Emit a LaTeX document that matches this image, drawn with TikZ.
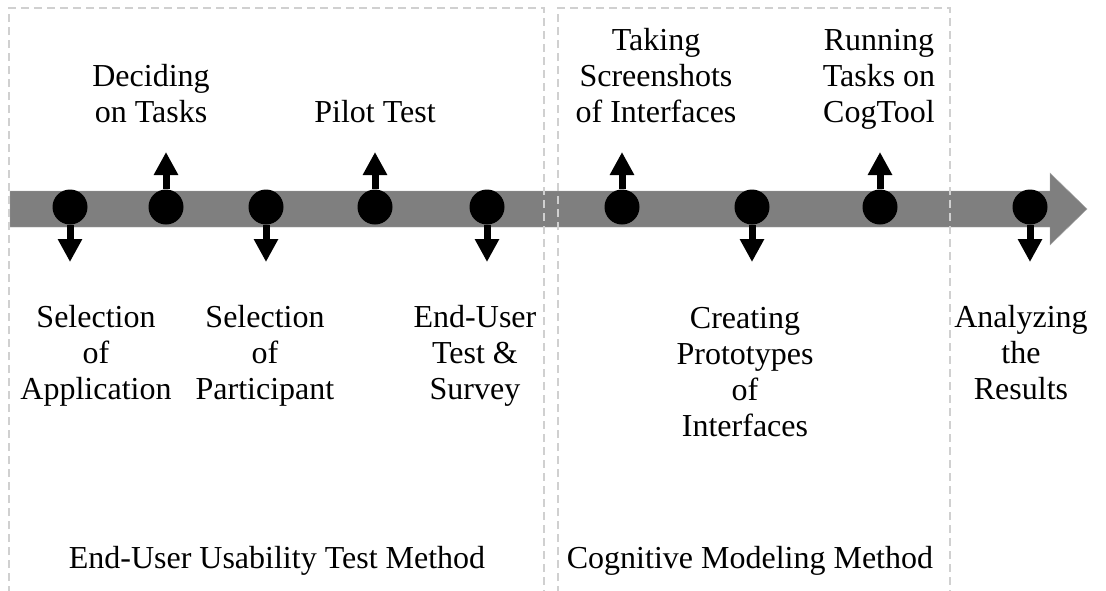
\documentclass[tikz,border=0pt]{standalone}
\usepackage{fontspec}
\setmainfont{Liberation Serif}
\usetikzlibrary{arrows.meta}
\definecolor{barGray}{HTML}{7F7F7F}
\definecolor{barEdge}{HTML}{A6A6A6}
\definecolor{boxGray}{HTML}{D0D0D0}

\begin{document}
\begin{tikzpicture}[x=1pt,y=-1pt,
    milestone/.style={circle,fill=black,minimum size=35pt,inner sep=0pt},
    stem/.style={line width=7pt,-{Triangle[width=23pt,length=23pt]}},
    lbl/.style={align=center,inner sep=0pt,anchor=base,font=\fontsize{32}{36}\selectfont},
    groupbox/.style={draw=boxGray,line width=1.5pt,dash pattern=on 8pt off 5pt}]
    \useasboundingbox (0,0) rectangle (1106,590);
    % timeline bar
    \fill [draw=barEdge, fill=barGray] (10,191) -- (1050,191) -- (1050,173) -- (1087,209) -- (1050,245) -- (1050,227) -- (10,227) -- cycle;
    % method boxes
    \draw [groupbox] (9,594) -- (9,8) -- (544,8) -- (544,594);
    \draw [groupbox] (558,594) -- (558,8) -- (950,8) -- (950,594);
    % milestones
    \node [milestone] (c1) at (70,207) {};
    \node [milestone] (c2) at (166,207) {};
    \node [milestone] (c3) at (266,207) {};
    \node [milestone] (c4) at (375,207) {};
    \node [milestone] (c5) at (487,207) {};
    \node [milestone] (c6) at (622,207) {};
    \node [milestone] (c7) at (752,207) {};
    \node [milestone] (c8) at (880,207) {};
    \node [milestone] (c9) at (1030,207) {};
    \coordinate (t1) at (70,262);
    \coordinate (t2) at (166,152);
    \coordinate (t3) at (266,262);
    \coordinate (t4) at (375,152);
    \coordinate (t5) at (487,262);
    \coordinate (t6) at (622,152);
    \coordinate (t7) at (752,262);
    \coordinate (t8) at (880,152);
    \coordinate (t9) at (1030,262);
    \draw [stem] (c1.south) -- (t1);
    \draw [stem] (c2.north) -- (t2);
    \draw [stem] (c3.south) -- (t3);
    \draw [stem] (c4.north) -- (t4);
    \draw [stem] (c5.south) -- (t5);
    \draw [stem] (c6.north) -- (t6);
    \draw [stem] (c7.south) -- (t7);
    \draw [stem] (c8.north) -- (t8);
    \draw [stem] (c9.south) -- (t9);
    % labels (anchored at the last line)
    \node [lbl] (l1) at (96,399) {Selection\\of\\Application};
    \node [lbl] (l2) at (151,122) {Deciding\\on Tasks};
    \node [lbl] (l3) at (265,399) {Selection\\of\\Participant};
    \node [lbl] (l4) at (375,122) {Pilot Test};
    \node [lbl] (l5) at (475,399) {End-User\\Test \&\\Survey};
    \node [lbl] (l6) at (656,122) {Taking\\Screenshots\\of Interfaces};
    \node [lbl] (l7) at (745,436) {Creating\\Prototypes\\of\\Interfaces};
    \node [lbl] (l8) at (879,122) {Running\\Tasks on\\CogTool};
    \node [lbl] (l9) at (1021,399) {Analyzing\\the\\Results};
    \node [lbl] (m1) at (277,568) {End-User Usability Test Method};
    \node [lbl] (m2) at (750,568) {Cognitive Modeling Method};
\end{tikzpicture}
\end{document}
